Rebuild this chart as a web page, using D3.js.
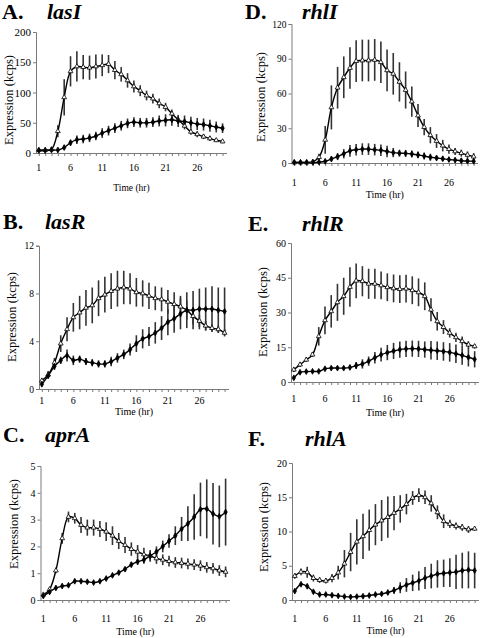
<!DOCTYPE html>
<html>
<head>
<meta charset="utf-8">
<script src="https://cdn.jsdelivr.net/npm/d3@7/dist/d3.min.js"></script>
<style>
  html, body { margin: 0; padding: 0; background: #fff; }
  svg { display: block; }
</style>
</head>
<body>
<svg id="chart" width="480" height="638"></svg>
<script>
// ---------------- DATA ----------------
const hours = [1,2,3,4,5,6,7,8,9,10,11,12,13,14,15,16,17,18,19,20,21,22,23,24,25,26,27,28,29,30];
const xTickLabels = [1, 6, 11, 16, 21, 26];

// A. lasI
const lasI_s1     = [5,5,6,36,92,135,143,142,141,143,145,147,137,130,120,110,103,95,90,82,76,65,55,45,35,31,27,24,21,19];
const lasI_s1_err = [3,3,3,10,30,25,25,20,20,20,18,15,15,12,12,10,9,8,8,8,7,7,6,6,5,5,4,4,3,3];
const lasI_s2     = [4,4,5,5,9,17,22,23,25,28,33,37,41,45,49,51,50,50,51,53,54,55,53,52,50,48,47,45,43,41];
const lasI_s2_err = [2,2,2,2,3,5,7,7,7,7,8,8,8,8,8,8,8,8,8,9,10,10,10,10,10,10,10,10,9,8];
const lasI_yTicks = [0, 50, 100, 150, 200];

// B. lasR
const lasR_s1     = [0.7,1.2,2.2,3.8,5.0,6.0,6.4,6.8,7.0,7.6,7.9,8.2,8.4,8.5,8.4,8.1,8.0,7.8,7.6,7.5,7.3,7.1,6.9,6.6,6.1,5.7,5.3,5.1,5.0,4.7];
const lasR_s1_err = [0.2,0.3,0.4,0.7,1.0,1.2,1.4,1.5,1.5,1.5,1.5,1.5,1.5,1.4,1.3,1.2,1.1,1.1,1.0,1.0,1.0,1.0,0.9,0.8,0.7,0.5,0.4,0.3,0.3,0.3];
const lasR_s2     = [0.4,1.1,1.9,2.4,2.8,2.4,2.5,2.3,2.2,2.1,2.1,2.3,2.6,2.9,3.3,3.8,4.2,4.4,4.7,5.1,5.6,5.9,6.3,6.6,6.6,6.7,6.7,6.7,6.6,6.5];
const lasR_s2_err = [0.2,0.2,0.3,0.3,0.5,0.4,0.3,0.3,0.3,0.3,0.3,0.4,0.4,0.4,0.5,0.7,0.8,0.8,0.9,1.0,1.1,1.2,1.3,1.5,1.6,1.7,1.8,1.9,1.9,2.0];
const lasR_yTicks = [0, 4, 8, 12];

// C. aprA
const aprA_s1     = [0.2,0.4,1.1,2.3,3.1,3.05,2.8,2.7,2.7,2.65,2.55,2.4,2.2,2.05,1.9,1.8,1.7,1.65,1.55,1.5,1.45,1.4,1.38,1.35,1.32,1.28,1.22,1.18,1.1,1.05];
const aprA_s1_err = [0.05,0.05,0.1,0.2,0.2,0.2,0.3,0.3,0.3,0.3,0.35,0.35,0.3,0.3,0.25,0.25,0.25,0.22,0.2,0.2,0.2,0.2,0.2,0.2,0.2,0.2,0.2,0.2,0.2,0.2];
const aprA_s2     = [0.15,0.3,0.45,0.52,0.55,0.7,0.7,0.68,0.65,0.7,0.8,0.92,1.02,1.15,1.32,1.43,1.5,1.65,1.8,2.0,2.2,2.4,2.65,2.85,3.1,3.38,3.4,3.22,3.12,3.28];
const aprA_s2_err = [0.03,0.03,0.03,0.04,0.05,0.05,0.05,0.05,0.05,0.05,0.05,0.06,0.07,0.08,0.1,0.12,0.15,0.17,0.2,0.22,0.25,0.35,0.45,0.65,0.85,1.0,1.1,1.15,1.15,1.25];
const aprA_yTicks = [0, 1, 2, 3, 4, 5];

// D. rhlI
const rhlI_s1     = [0.5,0.5,0.5,1,5,20,48,65,74,82,88,88.5,88.5,89,87,80,77,70,63,53,41,31,24,19,15,12,10,8.5,7,5.5];
const rhlI_s1_err = [0.5,0.5,0.5,1,3,12,19,18,18,18,18,18,18,18,18,18,18,17,16,13,10,7,7,6,5,4,3,3,3,3];
const rhlI_s2     = [0.5,0.5,0.5,0.5,0.8,1.5,3.5,5.5,8,10.5,11.5,12,12,11.5,11,10,9,8.5,8.3,7.8,7,6,5,4.3,3.7,3,2.5,2,1.7,1.5];
const rhlI_s2_err = [0.3,0.3,0.3,0.3,0.5,1,2,3,4,5,5,5,5,5,5,5,4,3,3,3,3,3,3,2,2,2,2,2,2,1.5];
const rhlI_yTicks = [0, 30, 60, 90, 120];

// E. rhlR
const rhlR_s1     = [5.3,7.5,9.6,11.8,19.7,26.6,30.5,34.4,37,41,43.7,43.5,42.4,42.4,41.7,40.9,40.4,40.1,40.3,39.6,38.7,37,31.2,26.2,23.7,21.2,19.3,17.6,16.1,15.4];
const rhlR_s1_err = [1,1,1,1,4,6,7,8,8,8.5,7.5,6.5,6.5,6.5,6,6,6,6,6,6,6,6,5,4,3,2,2,2,1.5,1];
const rhlR_s2     = [1.8,4.2,4.5,4.6,4.6,5.7,6.0,6.0,6.0,6.3,7.1,7.8,9.0,10.5,11.8,12.7,13.4,14.0,14.3,14.4,14.3,14.0,13.7,13.5,13.2,12.8,12.2,11.5,10.7,9.8];
const rhlR_s2_err = [0.5,0.5,0.5,0.5,0.5,0.5,0.6,0.7,0.8,1,1.5,2,2,2.5,3,3.3,3.5,3.5,3.5,3.5,3.5,3.5,4,4,4,4,4,4,4,3.5];
const rhlR_yTicks = [0, 15, 30, 45, 60];

// F. rhlA
const rhlA_s1     = [3.5,4.1,4.05,3.2,2.9,2.8,3.2,4.0,5.3,7.0,8.5,9.3,10.2,11.0,11.6,12.1,12.7,13.3,14.0,14.9,15.3,15.0,14.1,12.8,11.5,11.1,10.8,10.6,10.3,10.4];
const rhlA_s1_err = [0.4,0.5,0.8,0.5,0.4,0.4,0.6,1,2,2.8,3.3,3.3,3,3,3,3,2.5,2,1.5,1,1,1,1.2,1,1,0.6,0.5,0.5,0.5,0.3];
const rhlA_s2     = [1.3,2.3,2.0,1.2,0.8,0.8,0.7,0.6,0.5,0.45,0.5,0.55,0.65,0.8,0.9,1.1,1.4,1.8,2.2,2.5,2.8,3.2,3.5,3.8,3.9,4.0,4.1,4.3,4.4,4.3];
const rhlA_s2_err = [0.2,0.2,0.2,0.2,0.2,0.2,0.2,0.2,0.2,0.2,0.2,0.2,0.2,0.2,0.3,0.3,0.5,0.8,1,1.2,1.4,1.6,1.8,2.0,2.0,2.1,2.5,2.6,2.7,2.6];
const rhlA_yTicks = [0, 5, 10, 15, 20];

const yAxisTitle = "Expression (kcps)";
const xAxisTitle = "Time (hr)";

// ---------------- LAYOUT ----------------
const FONT = '"Liberation Serif"';
const panels = [
  {letter:"A.", gene:"lasI", s1:lasI_s1, e1:lasI_s1_err, s2:lasI_s2, e2:lasI_s2_err, yTicks:lasI_yTicks,
   left:36, right:227, top:32, bottom:153, titleY:19, letterX:2, geneX:47, tickY:171, timeY:191, yLabX:10, yLabY:100, ytf:11, xtf:10, ttf:9.5},
  {letter:"B.", gene:"lasR", s1:lasR_s1, e1:lasR_s1_err, s2:lasR_s2, e2:lasR_s2_err, yTicks:lasR_yTicks,
   left:39, right:229, top:245.7, bottom:389, titleY:229, letterX:3, geneX:45, tickY:404, timeY:415, yLabX:13, yLabY:317, ytf:9.5, xtf:10, ttf:10},
  {letter:"C.", gene:"aprA", s1:aprA_s1, e1:aprA_s1_err, s2:aprA_s2, e2:aprA_s2_err, yTicks:aprA_yTicks,
   left:40.5, right:230, top:466, bottom:600, titleY:442, letterX:3, geneX:45, tickY:622, timeY:635, yLabX:15, yLabY:524, ytf:10, xtf:10, ttf:10},
  {letter:"D.", gene:"rhlI", s1:rhlI_s1, e1:rhlI_s1_err, s2:rhlI_s2, e2:rhlI_s2_err, yTicks:rhlI_yTicks,
   left:291.5, right:478, top:24, bottom:163, titleY:19, letterX:245, geneX:302, tickY:186, timeY:198, yLabX:262, yLabY:97, ytf:9.5, xtf:10, ttf:10},
  {letter:"E.", gene:"rhlR", s1:rhlR_s1, e1:rhlR_s1_err, s2:rhlR_s2, e2:rhlR_s2_err, yTicks:rhlR_yTicks,
   left:291, right:479, top:243, bottom:382, titleY:231, letterX:248, geneX:302, tickY:402, timeY:416, yLabX:264, yLabY:312, ytf:10, xtf:10, ttf:10},
  {letter:"F.", gene:"rhlA", s1:rhlA_s1, e1:rhlA_s1_err, s2:rhlA_s2, e2:rhlA_s2_err, yTicks:rhlA_yTicks,
   left:292, right:479, top:463, bottom:600, titleY:446, letterX:248, geneX:305, tickY:622, timeY:634, yLabX:265, yLabY:527, ytf:10, xtf:10, ttf:10}
];

const svg = d3.select("#chart");
const axisColor = "#7a7a7a";

panels.forEach(p => {
  const g = svg.append("g");
  const x = d3.scaleLinear().domain([0.55, 30.7]).range([p.left, p.right]);
  const y = d3.scaleLinear().domain([0, p.yTicks[p.yTicks.length - 1]]).range([p.bottom, p.top]);

  // titles
  g.append("text").attr("x", p.letterX).attr("y", p.titleY)
    .style("font-size", "22px").style("font-weight", "bold").text(p.letter);
  g.append("text").attr("x", p.geneX).attr("y", p.titleY)
    .style("font-size", "22px").style("font-weight", "bold").style("font-style", "italic").text(p.gene);

  // y axis
  const yAx = g.append("g").attr("transform", `translate(${p.left},0)`)
    .call(d3.axisLeft(y).tickValues(p.yTicks).tickSize(3).tickPadding(2).tickFormat(d3.format("d")));
  yAx.attr("font-family", null).attr("font-size", null);
  yAx.select(".domain").attr("stroke", axisColor);
  yAx.selectAll(".tick line").attr("stroke", axisColor);
  yAx.selectAll(".tick text").style("font-size", p.ytf + "px");

  // x axis (ticks every hour, labels at selected)
  const xAx = g.append("g").attr("transform", `translate(0,${p.bottom})`)
    .call(d3.axisBottom(x).tickValues(hours).tickSize(3).tickSizeOuter(0).tickFormat(""));
  xAx.attr("font-family", null).attr("font-size", null);
  xAx.select(".domain").attr("stroke", axisColor).attr("d", `M${p.left},0.5H${p.right}`);
  xAx.selectAll(".tick line").attr("stroke", axisColor);
  g.selectAll(".xlab").data(xTickLabels).enter().append("text")
    .attr("x", d => x(d)).attr("y", p.tickY).attr("text-anchor", "middle")
    .style("font-size", p.xtf + "px").text(d => d);

  // axis titles
  g.append("text").attr("x", (p.left + p.right) / 2).attr("y", p.timeY)
    .attr("text-anchor", "middle").style("font-size", p.ttf + "px").text(xAxisTitle);
  g.append("text").attr("transform", `translate(${p.yLabX},${p.yLabY}) rotate(-90)`)
    .attr("text-anchor", "middle").attr("dominant-baseline", "middle")
    .style("font-size", "12.5px").text(yAxisTitle);

  const series = [
    {vals:p.s1, err:p.e1, sym:d3.symbolTriangle, fill:"#fff"},
    {vals:p.s2, err:p.e2, sym:d3.symbolDiamond, fill:"#000"}
  ];

  // error bars
  series.forEach(s => {
    g.selectAll(null).data(hours).enter().append("line")
      .attr("x1", (d) => x(d)).attr("x2", (d) => x(d))
      .attr("y1", (d, i) => y(s.vals[i] + s.err[i]))
      .attr("y2", (d, i) => y(Math.max(0, s.vals[i] - s.err[i])))
      .attr("stroke", "#333").attr("stroke-width", 1.6);
  });

  // lines
  const line = d3.line().x((d, i) => x(hours[i])).y(d => y(d)).curve(d3.curveCatmullRom.alpha(0.5));
  series.forEach(s => {
    g.append("path").attr("d", line(s.vals)).attr("fill", "none")
      .attr("stroke", "#000").attr("stroke-width", 1.4);
  });

  // markers
  series.forEach(s => {
    g.selectAll(null).data(hours).enter().append("path")
      .attr("transform", (d, i) => `translate(${x(d)},${y(s.vals[i])})`)
      .attr("d", d3.symbol().type(s.sym).size(10))
      .attr("fill", s.fill).attr("stroke", "#000").attr("stroke-width", 0.8);
  });
});

svg.selectAll("text").style("font-family", FONT).style("fill", "#000");
</script>
</body>
</html>
